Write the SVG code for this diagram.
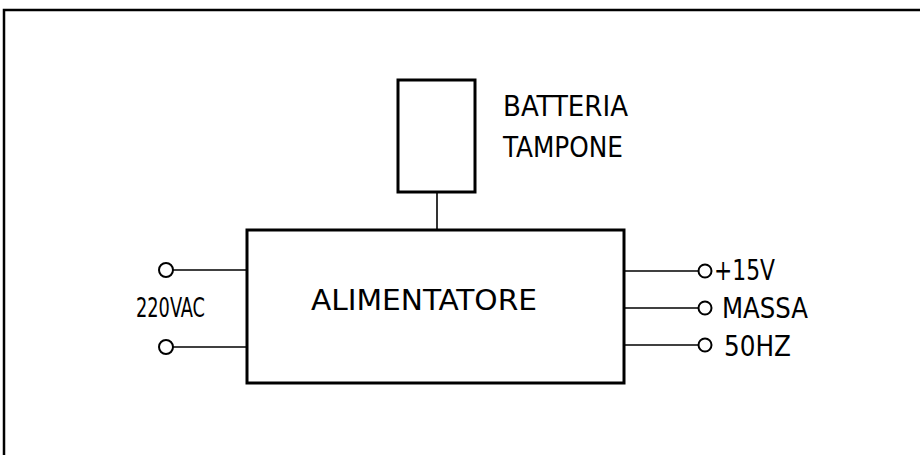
<svg xmlns="http://www.w3.org/2000/svg" width="920" height="455" viewBox="0 0 920 455">
<style>
.box{fill:none;stroke:#000;stroke-width:3}
.frame{fill:none;stroke:#000;stroke-width:2.5}
.wire{fill:none;stroke:#000;stroke-width:1.6}
.term{fill:#fff;stroke:#000;stroke-width:2}
text{font-family:"DejaVu Sans Condensed","Liberation Sans",sans-serif;font-size:28px;fill:#000}
</style>
<rect width="920" height="455" fill="#fff"/>
<path class="frame" d="M4,455 V10 H920"/>
<g id="battery">
<rect class="box" x="398" y="80" width="77" height="112"/>
<text x="503" y="116" textLength="125" lengthAdjust="spacingAndGlyphs">BATTERIA</text>
<text x="503" y="157" textLength="120" lengthAdjust="spacingAndGlyphs">TAMPONE</text>
</g>
<g id="alimentatore">
<rect class="box" x="247" y="230" width="377" height="153"/>
<text x="311" y="310" textLength="226" lengthAdjust="spacingAndGlyphs">ALIMENTATORE</text>
</g>
<g id="connectors">
<line class="wire" x1="172" y1="270" x2="247" y2="270"/>
<line class="wire" x1="172" y1="347" x2="247" y2="347"/>
<line class="wire" x1="437" y1="192" x2="437" y2="230"/>
<line class="wire" x1="624" y1="271" x2="699" y2="271"/>
<line class="wire" x1="624" y1="308" x2="699" y2="308"/>
<line class="wire" x1="624" y1="345" x2="699" y2="345"/>
</g>
<g id="input">
<circle class="term" cx="166" cy="270" r="7"/>
<circle class="term" cx="166" cy="347" r="7"/>
<text x="136" y="317" textLength="69" lengthAdjust="spacingAndGlyphs" style="font-size:26px">220VAC</text>
</g>
<g id="outputs">
<circle class="term" cx="705" cy="271" r="6.5"/>
<circle class="term" cx="705" cy="308" r="6.5"/>
<circle class="term" cx="705" cy="345" r="6.5"/>
<text x="714" y="280" textLength="61" lengthAdjust="spacingAndGlyphs">+15V</text>
<text x="722" y="318" textLength="86" lengthAdjust="spacingAndGlyphs">MASSA</text>
<text x="724" y="356" textLength="67" lengthAdjust="spacingAndGlyphs">50HZ</text>
</g>
</svg>
